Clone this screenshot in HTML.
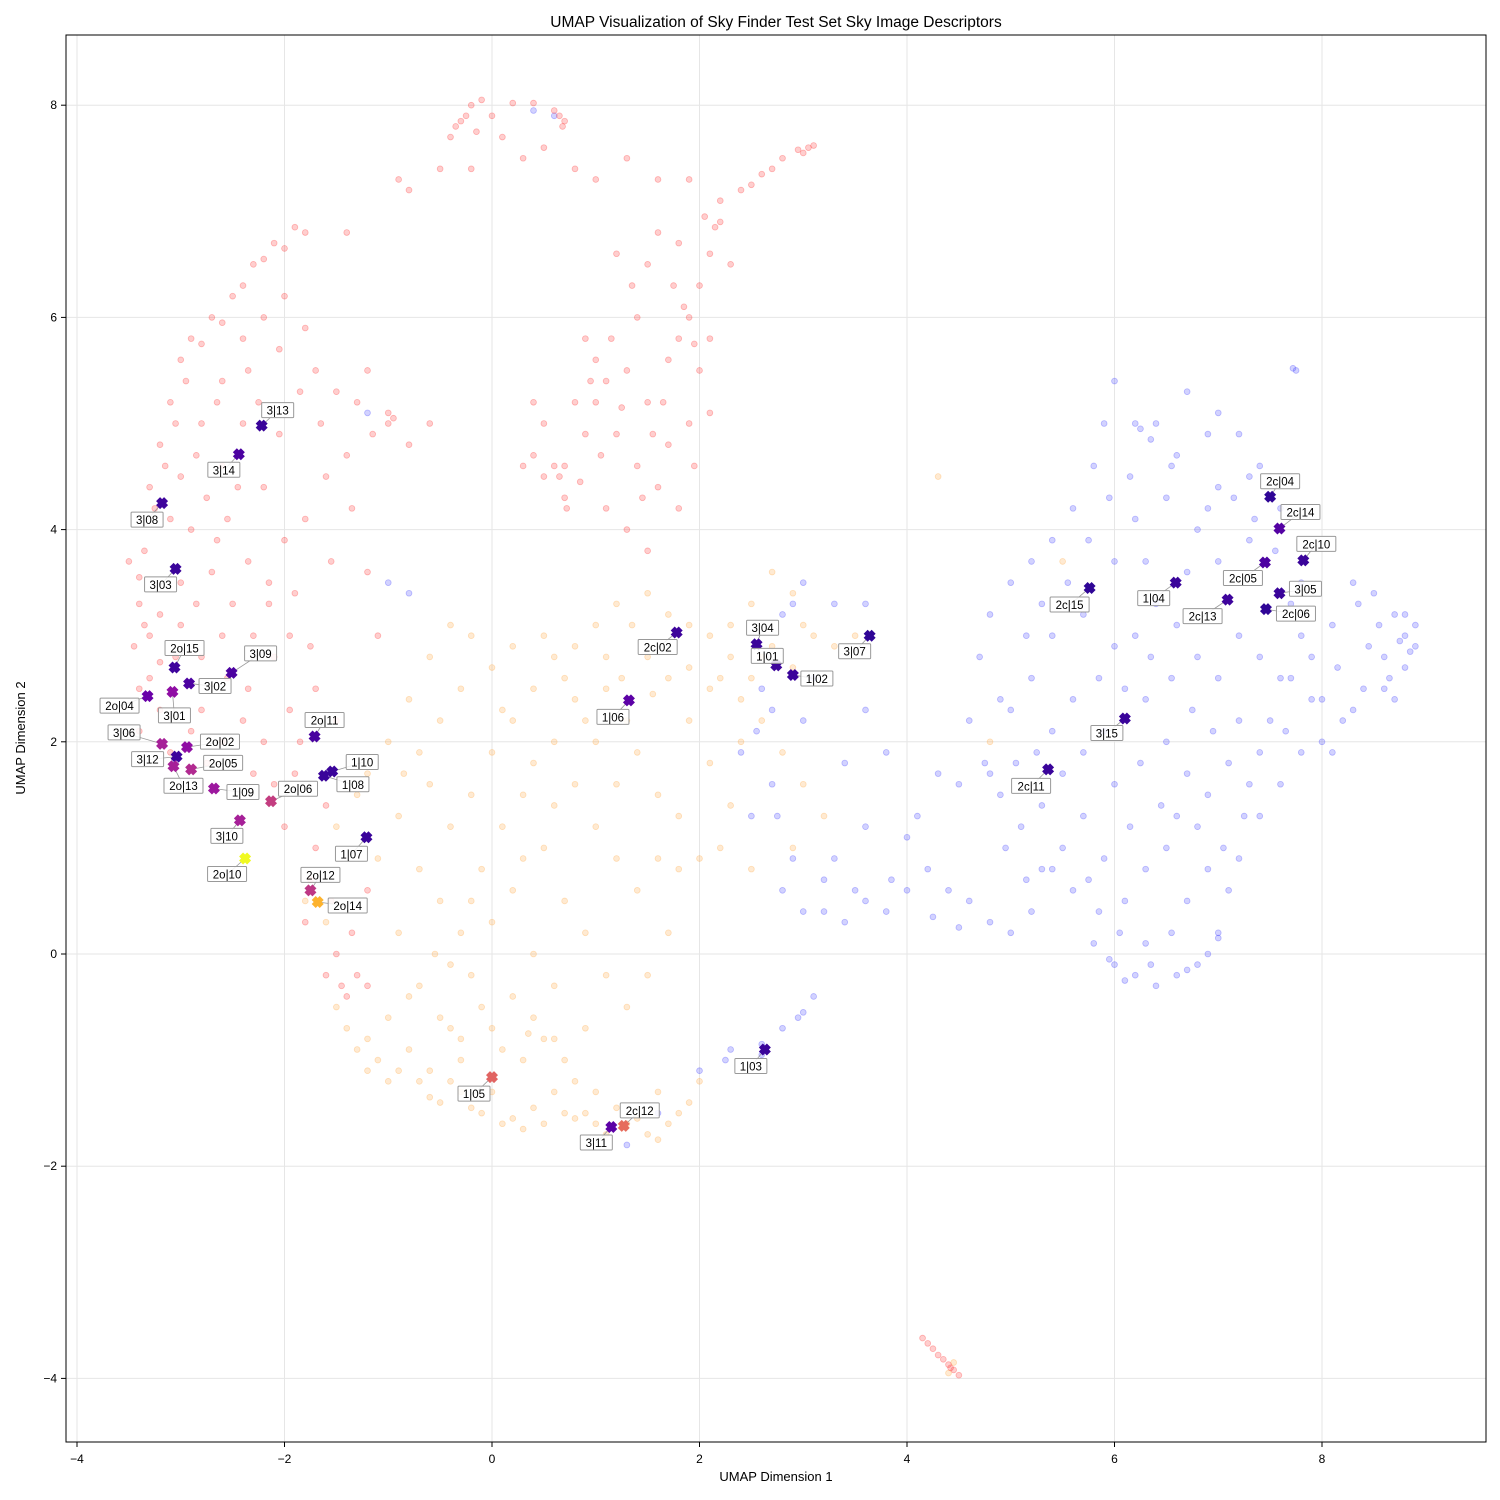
<!DOCTYPE html>
<html><head><meta charset="utf-8"><style>
html,body{margin:0;padding:0;background:#fff;}
svg{display:block;font-family:"Liberation Sans","DejaVu Sans",sans-serif;}
</style></head><body>
<svg id="chart" width="1500" height="1500" viewBox="0 0 1500 1500" xmlns="http://www.w3.org/2000/svg">
<rect width="1500" height="1500" fill="#fff"/>
<text x="776" y="27" font-size="15.5" text-anchor="middle" fill="#000">UMAP Visualization of Sky Finder Test Set Sky Image Descriptors</text>
<text x="776" y="1481" font-size="13" text-anchor="middle">UMAP Dimension 1</text>
<text x="25" y="738" font-size="13" text-anchor="middle" transform="rotate(-90 25 738)">UMAP Dimension 2</text>
<g id="grid"></g>
<g id="bg"></g>
<g id="marks"></g>
<rect x="66" y="35" width="1420" height="1407" fill="none" stroke="#000" stroke-width="1"/>
<g id="ticks"></g>
</svg>
<script>
const xTicks=[-4,-2,0,2,4,6,8];
const yTicks=[-4,-2,0,2,4,6,8];
const redPts="-3.5,3.7 -3.4,3.3 -3.45,2.9 -3.3,3.0 -3.2,2.75 -3.3,4.4 -3.2,4.8 -3.1,5.2 -3.0,5.6 -2.9,5.8 -2.7,6.0 -2.5,6.2 -2.3,6.5 -2.1,6.7 -1.9,6.85 -3.0,4.5 -2.8,5.0 -2.6,5.4 -2.4,5.8 -2.2,6.0 -2.0,6.2 -1.8,5.9 -1.7,5.5 -1.5,5.3 -1.3,5.2 -1.0,5.0 -1.2,5.5 -1.4,6.8 -2.6,4.6 -2.9,4.0 -2.7,3.6 -2.5,3.3 -2.3,3.0 -2.1,2.8 -2.0,3.9 -1.8,4.1 -1.6,4.5 -1.4,4.7 -1.2,3.6 -1.1,3.0 -2.4,2.2 -2.2,2.0 -2.6,2.0 -2.8,2.3 -3.0,3.1 -2.2,4.4 -2.4,5.0 -1.9,3.4 -1.7,2.5 -1.5,2.2 -1.9,1.7 -2.0,1.2 -1.8,0.3 -1.6,-0.2 -1.4,-0.4 -1.2,-0.3 -1.2,0.6 -1.5,0.0 -1.7,1.0 -3.1,1.9 -2.9,2.1 -3.2,2.3 -3.3,2.6 -3.4,2.1 -2.8,2.8 -2.6,3.0 -3.0,3.5 -3.35,3.8 -3.1,4.1 -2.85,4.7 -2.65,5.2 -2.35,5.5 -2.05,5.7 -2.55,2.6 -2.35,2.5 -2.15,3.3 -1.95,2.3 -2.75,1.8 -3.4,3.55 -3.35,3.1 -3.25,4.2 -3.15,4.6 -3.05,5.0 -2.95,5.4 -2.8,5.75 -2.6,5.95 -2.4,6.3 -2.2,6.55 -2.0,6.65 -1.8,6.8 -2.75,4.3 -2.55,4.1 -2.35,3.7 -2.15,3.5 -1.95,3.0 -1.75,2.9 -1.55,3.7 -1.35,4.2 -1.15,4.9 -0.95,5.05 -1.65,5.0 -1.85,5.3 -2.05,4.9 -2.25,5.2 -2.45,4.4 -2.65,3.9 -2.85,3.3 -3.05,2.8 -3.2,3.2 -3.4,2.5 -2.3,1.7 -2.1,1.6 -1.85,2.0 -1.6,1.4 -1.75,0.7 -1.55,0.5 -1.35,0.2 -1.3,-0.2 -1.45,-0.3 -0.4,7.7 -0.3,7.85 -0.2,8.0 -0.1,8.05 0.0,7.9 0.2,8.02 0.4,8.02 0.6,7.95 0.7,7.85 0.5,7.6 0.3,7.5 0.1,7.7 -0.2,7.4 -0.5,7.4 -0.8,7.2 -0.9,7.3 0.8,7.4 1.0,7.3 1.3,7.5 1.6,7.3 1.9,7.3 2.2,7.1 2.4,7.2 2.6,7.35 2.8,7.5 3.0,7.55 3.1,7.62 2.7,7.4 2.2,6.9 2.1,6.6 2.3,6.5 2.0,6.3 1.9,6.0 1.8,5.8 2.0,5.5 2.1,5.1 1.9,5.0 1.7,4.8 1.5,5.2 1.3,5.5 1.1,5.4 1.0,5.2 0.9,4.9 1.2,4.9 1.4,4.6 1.6,4.4 1.8,4.2 0.7,4.6 0.7,4.3 0.6,4.6 0.5,4.5 0.4,4.7 0.3,4.6 0.8,5.2 1.0,5.6 1.4,6.0 1.5,6.5 1.6,6.8 1.2,6.6 1.8,6.7 2.1,5.8 1.7,5.6 1.3,4.0 1.5,3.8 0.5,5.0 0.9,5.8 0.4,5.2 -0.6,5.0 -0.8,4.8 -1.0,5.1 -0.35,7.8 -0.25,7.9 -0.15,7.75 0.65,7.9 0.68,7.8 2.95,7.58 3.05,7.6 2.5,7.25 2.05,6.95 2.15,6.85 1.85,6.1 1.95,5.75 1.65,5.2 1.55,4.9 1.25,5.15 1.05,4.7 0.85,4.45 0.65,4.5 0.72,4.2 1.15,5.8 1.35,6.3 1.75,6.3 1.95,4.6 1.45,4.3 1.1,4.2 0.95,5.4 4.15,-3.62 4.2,-3.67 4.25,-3.72 4.3,-3.78 4.35,-3.82 4.4,-3.87 4.45,-3.92 4.5,-3.97 4.42,-3.9";
const orangePts="-1.8,0.5 -1.6,0.3 -1.5,-0.5 -1.3,-0.9 -1.1,-1.0 -0.9,-1.1 -0.7,-1.2 -0.5,-1.4 -0.3,-1.3 -0.1,-1.5 0.1,-1.6 0.3,-1.65 0.5,-1.6 0.7,-1.5 0.9,-1.5 1.1,-1.7 1.3,-1.6 1.5,-1.7 1.7,-1.6 1.9,-1.4 2.0,-1.2 -0.9,0.2 -0.7,-0.3 -0.5,-0.6 -0.3,-0.8 -0.1,-0.5 0.1,-0.9 0.3,-1.0 0.5,-0.8 0.7,-1.0 0.9,-0.7 -0.7,0.8 -0.5,0.5 -0.3,0.2 0.0,0.3 0.2,0.6 0.4,0.0 0.6,-0.3 -0.9,1.3 -0.6,1.6 -0.4,1.2 -0.2,1.5 0.0,1.9 0.2,2.2 0.4,2.5 0.6,2.0 0.8,1.6 1.0,1.2 1.2,0.9 1.4,0.6 1.6,0.9 1.8,0.8 2.0,0.9 -1.0,2.0 -0.8,2.4 -0.6,2.8 -0.4,3.1 -0.2,3.0 0.0,2.7 0.2,2.9 0.5,3.0 0.8,2.9 1.0,3.1 1.2,3.3 1.5,3.4 1.7,3.2 1.9,3.1 2.1,3.0 2.3,3.1 2.5,3.3 2.7,3.6 2.9,3.4 3.1,3.0 3.3,2.9 3.5,3.0 2.2,2.6 2.4,2.4 2.6,2.2 2.8,1.9 3.0,1.6 3.2,1.3 2.9,1.0 2.5,0.8 2.3,1.4 2.1,1.8 1.9,2.2 1.7,2.6 1.5,2.8 1.3,2.2 1.1,2.5 0.9,2.2 0.7,2.6 0.3,1.5 0.5,1.0 0.7,0.5 0.9,0.2 1.1,-0.2 1.3,-0.5 1.5,-0.2 1.7,0.2 -1.2,-1.1 -0.6,-1.1 -0.2,-0.2 0.2,-0.4 4.8,2.0 5.5,3.7 4.3,4.5 -1.5,1.2 -1.2,1.7 -1.0,-0.6 -0.8,-0.4 -0.4,-0.1 0.8,-1.2 1.0,-1.3 1.6,-1.3 -1.1,0.9 -0.1,0.8 0.3,0.9 0.6,1.4 1.2,1.6 1.4,1.9 1.6,1.5 1.8,1.3 2.2,1.0 2.4,2.0 2.6,2.8 0.1,2.3 -0.3,2.5 -0.7,1.9 -1.4,-0.7 -1.2,-0.8 -1.0,-1.2 -0.8,-0.9 -0.6,-1.35 -0.4,-1.2 -0.2,-1.45 0.0,-1.3 0.2,-1.55 0.4,-1.45 0.6,-1.3 0.8,-1.55 1.0,-1.6 1.2,-1.45 1.4,-1.55 1.6,-1.75 1.8,-1.5 -0.4,-0.7 -0.3,-1.0 0.0,-0.7 0.4,-0.6 0.6,-0.8 0.35,-0.75 -0.55,0.0 -0.2,0.5 0.1,1.2 0.4,1.8 0.8,2.4 1.0,2.0 1.25,2.6 1.55,2.45 1.9,2.7 2.1,2.5 2.3,2.8 2.5,2.6 2.7,2.9 2.9,2.7 3.0,3.1 1.35,3.1 1.1,2.8 0.6,2.8 -0.5,2.2 -0.85,1.7 -1.3,1.5 4.45,-3.85 4.4,-3.95";
const bluePts="2.0,-1.1 2.3,-0.9 2.6,-0.85 2.8,-0.7 3.0,-0.55 3.1,-0.4 1.6,-1.5 1.3,-1.8 2.4,1.9 2.6,2.5 2.8,3.2 3.0,3.5 3.1,2.6 2.7,1.6 2.5,1.3 2.8,0.6 3.0,0.4 3.2,0.4 3.4,0.3 3.6,0.5 3.8,0.4 4.0,0.6 4.2,0.8 4.4,0.6 4.6,0.5 4.8,0.3 5.0,0.2 5.2,0.4 5.4,0.8 5.6,0.6 5.8,0.1 6.0,-0.1 6.2,-0.2 6.4,-0.3 6.6,-0.2 6.8,-0.1 7.0,0.2 7.1,0.6 7.2,0.9 7.4,1.3 7.6,1.6 7.8,1.9 8.0,2.0 8.2,2.2 8.4,2.5 8.6,2.8 8.8,3.0 8.9,2.9 8.7,3.2 8.5,3.4 8.3,3.5 8.1,3.1 7.9,2.8 7.8,3.5 7.6,4.2 7.4,4.6 7.2,4.9 7.0,5.1 6.7,5.3 6.4,5.0 6.2,5.0 6.0,5.4 5.9,5.0 5.8,4.6 5.6,4.2 5.4,3.9 5.2,3.7 5.0,3.5 4.8,3.2 4.7,2.8 4.6,2.2 4.75,1.8 4.9,1.5 5.1,1.2 5.3,1.4 5.5,1.7 5.7,1.9 5.9,2.1 6.1,2.5 6.3,2.4 6.5,2.0 6.7,1.7 6.9,1.5 7.1,1.8 7.3,1.6 7.5,2.2 7.7,2.6 7.9,2.4 6.2,3.0 6.4,3.3 6.6,3.1 6.8,2.8 7.0,2.6 7.2,3.0 7.4,2.8 6.0,3.7 6.2,4.1 6.5,4.3 6.8,4.0 7.0,4.4 7.3,4.5 6.6,4.7 6.9,4.9 7.72,5.52 7.75,5.5 5.9,0.9 6.1,0.5 6.3,0.8 6.5,1.0 6.7,0.5 5.5,1.0 5.3,0.8 4.0,1.1 3.6,1.2 3.4,1.8 3.6,2.3 3.8,1.9 4.1,1.3 4.3,1.7 4.5,1.6 6.9,0.0 7.0,0.15 4.5,0.25 8.6,2.5 8.8,2.7 8.9,3.1 8.3,2.3 8.1,1.9 2.9,3.3 3.3,3.3 3.6,3.3 0.4,7.95 0.6,7.9 -1.2,5.1 -1.0,3.5 -0.8,3.4 5.95,-0.05 6.05,0.2 6.35,-0.1 6.7,-0.15 5.85,0.4 6.15,1.2 6.45,1.4 6.8,1.2 7.05,1.0 7.25,1.3 7.6,2.6 8.45,2.9 8.65,2.6 8.85,2.85 7.0,3.7 7.3,3.9 6.7,3.6 6.3,3.7 5.7,3.2 5.4,3.0 5.2,2.6 5.0,2.3 4.8,1.7 4.9,2.4 3.3,0.9 3.5,0.6 2.9,0.9 2.7,2.3 3.0,2.2 6.25,4.95 6.35,4.85 6.55,4.6 6.15,4.5 5.95,4.3 5.75,3.9 5.55,3.5 5.3,3.3 5.15,3.0 6.9,4.2 7.15,4.3 7.35,4.1 7.55,3.8 7.7,3.3 7.8,3.0 7.65,2.1 7.4,1.9 7.2,2.2 6.95,2.1 6.75,2.3 6.55,2.6 6.35,2.8 6.0,2.9 5.85,2.6 5.6,2.4 5.4,2.1 5.25,1.9 5.05,1.8 4.95,1.0 5.15,0.7 5.7,1.3 6.0,1.6 6.25,1.8 6.6,1.3 6.9,0.8 6.55,0.2 6.3,0.1 6.1,-0.25 5.75,0.7 8.75,2.95 8.55,3.1 8.35,3.3 8.15,2.7 8.0,2.4 8.8,3.2 8.7,2.4 4.25,0.35 3.85,0.7 3.2,0.7 2.75,1.3 2.55,2.1 2.6,-0.95 2.95,-0.6 2.25,-1.0";
const catLabels=["3|13","3|14","3|08","3|03","2o|15","3|09","3|02","2o|04","3|01","3|06","2o|02","3|12","2o|05","2o|13","1|09","2o|06","3|10","2o|10","2o|11","1|10","1|08","1|07","2o|12","2o|14","1|05","3|11","2c|12","1|03","1|06","2c|02","3|04","1|01","1|02","3|07","2c|11","3|15","2c|15","1|04","2c|13","2c|05","2c|04","2c|14","2c|10","3|05","2c|06"];
const markX=[-2.22,-2.44,-3.18,-3.05,-3.06,-2.51,-2.92,-3.32,-3.08,-3.18,-2.94,-3.04,-2.90,-3.07,-2.68,-2.13,-2.43,-2.38,-1.71,-1.54,-1.62,-1.21,-1.75,-1.68,0.00,1.15,1.27,2.63,1.32,1.78,2.55,2.74,2.90,3.64,5.36,6.10,5.76,6.59,7.09,7.45,7.50,7.59,7.82,7.59,7.46];
const markY=[4.98,4.71,4.25,3.63,2.70,2.65,2.55,2.43,2.47,1.98,1.95,1.86,1.74,1.77,1.56,1.44,1.26,0.90,2.05,1.72,1.68,1.10,0.60,0.49,-1.16,-1.63,-1.62,-0.90,2.39,3.03,2.92,2.72,2.63,3.00,1.74,2.22,3.45,3.50,3.34,3.69,4.31,4.01,3.71,3.40,3.25];
// marker colours (style)
const markC=["#3a049a","#4c02a1","#3e049c","#3a049a","#3e049c","#4c02a1","#4c02a1","#6a00a8","#8f0da4","#a62098","#8f0da4","#3e049c","#b12a90","#a62098","#9c179e","#c33d80","#a62098","#f0f921","#4903a0","#3a049a","#3a049a","#3a049a","#be3885","#fdb32f","#e16462","#5c01a6","#e66c5c","#3a049a","#5c01a6","#3e049c","#3a049a","#3e049c","#3a049a","#2f0596","#3a049a","#3a049a","#2f0596","#3a049a","#3e049c","#4c02a1","#2f0596","#5402a3","#3a049a","#3a049a","#2f0596"];
// label offsets in px (layout)
const lblOff=[[16,-15],[-15,16],[-15,17],[-15,16],[10,-19],[29,-19],[26,3],[-28,10],[2,24],[-38,-11],[33,-5],[-29,3],[32,-6],[10,20],[29,4],[27,-12],[-13,16],[-18,16],[10,-16],[30,-9],[29,9],[-15,17],[10,-15],[30,4],[-18,17],[-15,16],[16,-15],[-14,17],[-16,17],[-19,15],[6,-16],[-9,-9],[24,4],[-15,16],[-17,17],[-18,15],[-20,17],[-22,16],[-25,17],[-22,16],[10,-15],[21,-16],[13,-16],[26,-4],[30,5]];

const NS="http://www.w3.org/2000/svg";
const X0=492, XS=103.75, Y0=954, YS=106.1;
function sx(v){return X0+v*XS;}
function sy(v){return Y0-v*YS;}
function mk(tag,attrs,parent){const e=document.createElementNS(NS,tag);for(const k in attrs)e.setAttribute(k,attrs[k]);parent.appendChild(e);return e;}

const grid=document.getElementById('grid'), ticks=document.getElementById('ticks');
xTicks.forEach(t=>{
  const gl=mk('line',{x1:sx(t),x2:sx(t),y1:35,y2:1442,stroke:'#e6e6e6','stroke-width':1},grid);
  
  
  const tk=mk('line',{x1:sx(t),x2:sx(t),y1:1442,y2:1447,stroke:'#000'},ticks);
  
  
  const tx=mk('text',{x:sx(t),y:1463,'font-size':12,'text-anchor':'middle'},ticks);
  tx.textContent=(t<0?'\u2212'+(-t):t);
  
  
});
yTicks.forEach(t=>{
  const gl=mk('line',{x1:66,x2:1486,y1:sy(t),y2:sy(t),stroke:'#e6e6e6','stroke-width':1},grid);
  
  
  const tk=mk('line',{x1:61,x2:66,y1:sy(t),y2:sy(t),stroke:'#000'},ticks);
  
  
  const tx=mk('text',{x:57,y:sy(t)+4,'font-size':12,'text-anchor':'end'},ticks);
  tx.textContent=(t<0?'\u2212'+(-t):t);
  
  
});

const bg=document.getElementById('bg');
function drawPts(str,col,name){
  str.trim().split(/\s+/).forEach(p=>{
    const [a,b]=p.split(',').map(Number);
    const c=mk('circle',{cx:sx(a),cy:sy(b),r:2.9,fill:col,'fill-opacity':0.22,stroke:col,'stroke-opacity':0.3,'stroke-width':0.8},bg);
    
    
  });
}
drawPts(orangePts,'#ffa030','orange-point');
drawPts(bluePts,'#3030ff','blue-point');
drawPts(redPts,'#ff2020','red-point');

const marks=document.getElementById('marks');
const xPath="M-2,-6 L0,-4 L2,-6 L6,-2 L4,0 L6,2 L2,6 L0,4 L-2,6 L-6,2 L-4,0 L-6,-2 Z";
catLabels.forEach((lab,i)=>{
  const px=sx(markX[i]), py=sy(markY[i]);
  const lx=px+lblOff[i][0], ly=py+lblOff[i][1];
  const ln=mk('line',{x1:px,y1:py,x2:lx,y2:ly,stroke:'#999','stroke-width':0.8},marks);
  
  
  const m=mk('path',{d:xPath,transform:`translate(${px},${py})`,fill:markC[i]},marks);
  
  
  const w=lab.length*7+4;
  const r=mk('rect',{x:lx-w/2,y:ly-8,width:w,height:15,fill:'#fff','fill-opacity':0.85,stroke:'#999','stroke-width':1,rx:1},marks);
  
  
  const t=mk('text',{x:lx,y:ly+4,'font-size':11.5,'text-anchor':'middle',fill:'#000'},marks);
  t.textContent=lab;
  
  
});
</script>
</body></html>
